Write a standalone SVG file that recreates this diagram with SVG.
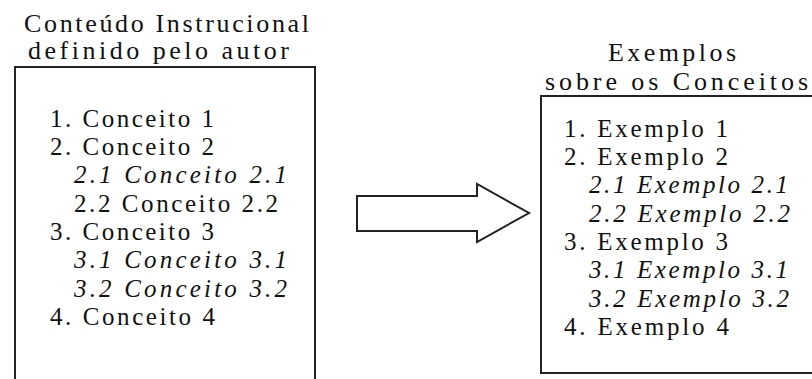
<svg xmlns="http://www.w3.org/2000/svg" width="812" height="379" viewBox="0 0 812 379">
<style>
  .t text { font-family: 'Liberation Serif', 'Times New Roman', serif; fill: #111; }
  .title { font-size: 26px; }
  .item { font-size: 25px; }
  .sub { font-size: 25px; font-style: italic; }
  .box { fill: none; stroke: #222; stroke-width: 2; }
  .arrow { fill: #fff; stroke: #222; stroke-width: 2; stroke-linejoin: miter; }
</style>
<rect width="812" height="379" fill="#fff"/>
<g id="node-conteudo" class="t">
  <text class="title" x="24" y="32" textLength="285" lengthAdjust="spacing">Conteúdo Instrucional</text>
  <text class="title" x="28" y="59" textLength="261" lengthAdjust="spacing">definido pelo autor</text>
  <path class="box" d="M15,381 V67 H315 V381"/>
  <text class="item" x="50" y="127" textLength="164" lengthAdjust="spacing">1. Conceito 1</text>
  <text class="item" x="50" y="155" textLength="164" lengthAdjust="spacing">2. Conceito 2</text>
  <text class="sub" x="74" y="183" textLength="213" lengthAdjust="spacing">2.1 Conceito 2.1</text>
  <text class="item" x="74" y="212" textLength="204" lengthAdjust="spacing">2.2 Conceito 2.2</text>
  <text class="item" x="50" y="240" textLength="164" lengthAdjust="spacing">3. Conceito 3</text>
  <text class="sub" x="74" y="268" textLength="213" lengthAdjust="spacing">3.1 Conceito 3.1</text>
  <text class="sub" x="74" y="297" textLength="213" lengthAdjust="spacing">3.2 Conceito 3.2</text>
  <text class="item" x="50" y="325" textLength="165" lengthAdjust="spacing">4. Conceito 4</text>
</g>
<g id="node-exemplos" class="t">
  <text class="title" x="608" y="61" textLength="128" lengthAdjust="spacing">Exemplos</text>
  <text class="title" x="545" y="90" textLength="263" lengthAdjust="spacing">sobre os Conceitos</text>
  <path class="box" d="M814,96 H541 V373 H814"/>
  <text class="item" x="564" y="137" textLength="164" lengthAdjust="spacing">1. Exemplo 1</text>
  <text class="item" x="564" y="165" textLength="164" lengthAdjust="spacing">2. Exemplo 2</text>
  <text class="sub" x="589" y="193" textLength="199" lengthAdjust="spacing">2.1 Exemplo 2.1</text>
  <text class="sub" x="589" y="222" textLength="201" lengthAdjust="spacing">2.2 Exemplo 2.2</text>
  <text class="item" x="564" y="250" textLength="164" lengthAdjust="spacing">3. Exemplo 3</text>
  <text class="sub" x="589" y="278" textLength="199" lengthAdjust="spacing">3.1 Exemplo 3.1</text>
  <text class="sub" x="589" y="307" textLength="200" lengthAdjust="spacing">3.2 Exemplo 3.2</text>
  <text class="item" x="564" y="335" textLength="165" lengthAdjust="spacing">4. Exemplo 4</text>
</g>
<g id="connectors">
  <polygon class="arrow" points="357,196 477,196 477,184 529,213 477,242 477,231 357,231"/>
</g>
</svg>
